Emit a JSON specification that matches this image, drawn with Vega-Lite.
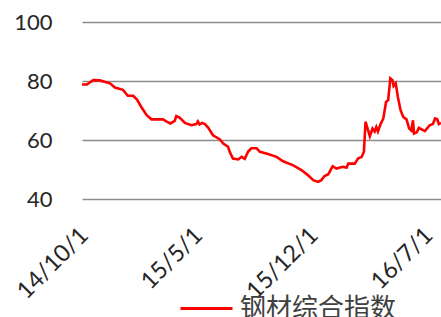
{
  "$schema": "https://vega.github.io/schema/vega-lite/v6.json",
  "autosize": {"type": "none"},
  "padding": {"left": 82, "top": 22, "right": 0, "bottom": 118},
  "width": 359,
  "height": 177,
  "background": "white",
  "config": {"view": {"stroke": null}},
  "data": {"values": [
    {"date": "2014-09-24", "value": 78.8, "series": "钢材综合指数"},
    {"date": "2014-10-03", "value": 78.8, "series": "钢材综合指数"},
    {"date": "2014-10-15", "value": 80.3, "series": "钢材综合指数"},
    {"date": "2014-10-27", "value": 80.2, "series": "钢材综合指数"},
    {"date": "2014-11-15", "value": 79.2, "series": "钢材综合指数"},
    {"date": "2014-11-24", "value": 77.8, "series": "钢材综合指数"},
    {"date": "2014-12-09", "value": 77.0, "series": "钢材综合指数"},
    {"date": "2014-12-18", "value": 75.0, "series": "钢材综合指数"},
    {"date": "2014-12-28", "value": 75.0, "series": "钢材综合指数"},
    {"date": "2015-01-04", "value": 73.7, "series": "钢材综合指数"},
    {"date": "2015-01-12", "value": 71.2, "series": "钢材综合指数"},
    {"date": "2015-01-22", "value": 68.4, "series": "钢材综合指数"},
    {"date": "2015-01-31", "value": 67.0, "series": "钢材综合指数"},
    {"date": "2015-02-21", "value": 67.0, "series": "钢材综合指数"},
    {"date": "2015-02-28", "value": 66.2, "series": "钢材综合指数"},
    {"date": "2015-03-07", "value": 65.6, "series": "钢材综合指数"},
    {"date": "2015-03-15", "value": 66.5, "series": "钢材综合指数"},
    {"date": "2015-03-18", "value": 68.1, "series": "钢材综合指数"},
    {"date": "2015-03-24", "value": 67.6, "series": "钢材综合指数"},
    {"date": "2015-04-03", "value": 65.8, "series": "钢材综合指数"},
    {"date": "2015-04-15", "value": 65.0, "series": "钢材综合指数"},
    {"date": "2015-04-24", "value": 65.4, "series": "钢材综合指数"},
    {"date": "2015-04-27", "value": 66.3, "series": "钢材综合指数"},
    {"date": "2015-04-30", "value": 65.3, "series": "钢材综合指数"},
    {"date": "2015-05-05", "value": 65.8, "series": "钢材综合指数"},
    {"date": "2015-05-10", "value": 65.4, "series": "钢材综合指数"},
    {"date": "2015-05-16", "value": 64.2, "series": "钢材综合指数"},
    {"date": "2015-05-25", "value": 61.6, "series": "钢材综合指数"},
    {"date": "2015-06-07", "value": 60.2, "series": "钢材综合指数"},
    {"date": "2015-06-13", "value": 58.8, "series": "钢材综合指数"},
    {"date": "2015-06-22", "value": 57.7, "series": "钢材综合指数"},
    {"date": "2015-06-25", "value": 56.0, "series": "钢材综合指数"},
    {"date": "2015-07-01", "value": 53.7, "series": "钢材综合指数"},
    {"date": "2015-07-11", "value": 53.4, "series": "钢材综合指数"},
    {"date": "2015-07-17", "value": 54.3, "series": "钢材综合指数"},
    {"date": "2015-07-23", "value": 53.6, "series": "钢材综合指数"},
    {"date": "2015-07-29", "value": 56.0, "series": "钢材综合指数"},
    {"date": "2015-08-04", "value": 57.2, "series": "钢材综合指数"},
    {"date": "2015-08-14", "value": 57.2, "series": "钢材综合指数"},
    {"date": "2015-08-20", "value": 56.0, "series": "钢材综合指数"},
    {"date": "2015-09-01", "value": 55.4, "series": "钢材综合指数"},
    {"date": "2015-09-20", "value": 54.3, "series": "钢材综合指数"},
    {"date": "2015-10-02", "value": 52.8, "series": "钢材综合指数"},
    {"date": "2015-10-21", "value": 51.4, "series": "钢材综合指数"},
    {"date": "2015-11-05", "value": 49.8, "series": "钢材综合指数"},
    {"date": "2015-11-17", "value": 48.1, "series": "钢材综合指数"},
    {"date": "2015-11-27", "value": 46.4, "series": "钢材综合指数"},
    {"date": "2015-12-06", "value": 45.8, "series": "钢材综合指数"},
    {"date": "2015-12-12", "value": 46.4, "series": "钢材综合指数"},
    {"date": "2015-12-18", "value": 47.8, "series": "钢材综合指数"},
    {"date": "2015-12-25", "value": 48.4, "series": "钢材综合指数"},
    {"date": "2016-01-02", "value": 51.1, "series": "钢材综合指数"},
    {"date": "2016-01-09", "value": 50.3, "series": "钢材综合指数"},
    {"date": "2016-01-21", "value": 50.9, "series": "钢材综合指数"},
    {"date": "2016-01-28", "value": 50.7, "series": "钢材综合指数"},
    {"date": "2016-01-31", "value": 52.0, "series": "钢材综合指数"},
    {"date": "2016-02-12", "value": 52.0, "series": "钢材综合指数"},
    {"date": "2016-02-18", "value": 53.7, "series": "钢材综合指数"},
    {"date": "2016-02-25", "value": 54.3, "series": "钢材综合指数"},
    {"date": "2016-02-29", "value": 56.0, "series": "钢材综合指数"},
    {"date": "2016-03-03", "value": 66.2, "series": "钢材综合指数"},
    {"date": "2016-03-06", "value": 64.4, "series": "钢材综合指数"},
    {"date": "2016-03-11", "value": 61.3, "series": "钢材综合指数"},
    {"date": "2016-03-16", "value": 63.9, "series": "钢材综合指数"},
    {"date": "2016-03-20", "value": 62.9, "series": "钢材综合指数"},
    {"date": "2016-03-23", "value": 64.4, "series": "钢材综合指数"},
    {"date": "2016-03-26", "value": 62.9, "series": "钢材综合指数"},
    {"date": "2016-03-31", "value": 65.4, "series": "钢材综合指数"},
    {"date": "2016-04-05", "value": 67.3, "series": "钢材综合指数"},
    {"date": "2016-04-10", "value": 72.9, "series": "钢材综合指数"},
    {"date": "2016-04-14", "value": 73.5, "series": "钢材综合指数"},
    {"date": "2016-04-18", "value": 80.9, "series": "钢材综合指数"},
    {"date": "2016-04-22", "value": 80.3, "series": "钢材综合指数"},
    {"date": "2016-04-24", "value": 78.3, "series": "钢材综合指数"},
    {"date": "2016-04-28", "value": 79.2, "series": "钢材综合指数"},
    {"date": "2016-05-02", "value": 74.6, "series": "钢材综合指数"},
    {"date": "2016-05-07", "value": 70.1, "series": "钢材综合指数"},
    {"date": "2016-05-12", "value": 67.8, "series": "钢材综合指数"},
    {"date": "2016-05-18", "value": 67.0, "series": "钢材综合指数"},
    {"date": "2016-05-23", "value": 63.9, "series": "钢材综合指数"},
    {"date": "2016-05-27", "value": 63.2, "series": "钢材综合指数"},
    {"date": "2016-05-30", "value": 66.7, "series": "钢材综合指数"},
    {"date": "2016-06-01", "value": 62.2, "series": "钢材综合指数"},
    {"date": "2016-06-06", "value": 62.6, "series": "钢材综合指数"},
    {"date": "2016-06-10", "value": 64.1, "series": "钢材综合指数"},
    {"date": "2016-06-21", "value": 63.0, "series": "钢材综合指数"},
    {"date": "2016-06-30", "value": 65.0, "series": "钢材综合指数"},
    {"date": "2016-07-06", "value": 65.4, "series": "钢材综合指数"},
    {"date": "2016-07-10", "value": 67.3, "series": "钢材综合指数"},
    {"date": "2016-07-14", "value": 67.0, "series": "钢材综合指数"},
    {"date": "2016-07-17", "value": 65.4, "series": "钢材综合指数"},
    {"date": "2016-07-21", "value": 65.8, "series": "钢材综合指数"}
  ]},
  "mark": {"type": "line", "strokeWidth": 2.6, "interpolate": "linear", "clip": true},
  "encoding": {
    "x": {
      "field": "date", "type": "temporal",
      "scale": {"domain": ["2014-09-24", "2016-07-21"]},
      "axis": {
        "title": null, "grid": false, "domain": false, "ticks": false,
        "values": ["2014-10-01", "2015-05-01", "2015-12-01", "2016-07-01"],
        "format": "%y/%-m/%-d",
        "labelAngle": -45, "labelAlign": "right", "labelBaseline": "top",
        "labelPadding": 24, "labelOffset": -10, "labelFont": "Lato", "labelFontSize": 23.5,
        "labelColor": "#262626", "labelOverlap": false, "labelFlush": false
      }
    },
    "y": {
      "field": "value", "type": "quantitative",
      "scale": {"domain": [40, 100], "nice": false, "zero": false},
      "axis": {
        "title": null, "values": [40, 60, 80, 100], "domain": false, "ticks": false,
        "grid": true, "gridColor": "#8c8c8c", "gridWidth": 1.6, "gridOpacity": 1,
        "labelPadding": 30, "labelFont": "Lato", "labelFontSize": 22,
        "labelColor": "#262626"
      }
    },
    "color": {
      "field": "series", "type": "nominal",
      "scale": {"range": ["#ff0000"]},
      "legend": {
        "title": null, "orient": "none", "legendX": 97, "legendY": 259,
        "padding": 0, "symbolType": "stroke", "symbolSize": 2704,
        "symbolStrokeWidth": 3, "labelFont": "Noto Sans CJK SC", "labelFontSize": 26,
        "labelColor": "#404040", "labelOffset": 6, "labelLimit": 300
      }
    }
  }
}
